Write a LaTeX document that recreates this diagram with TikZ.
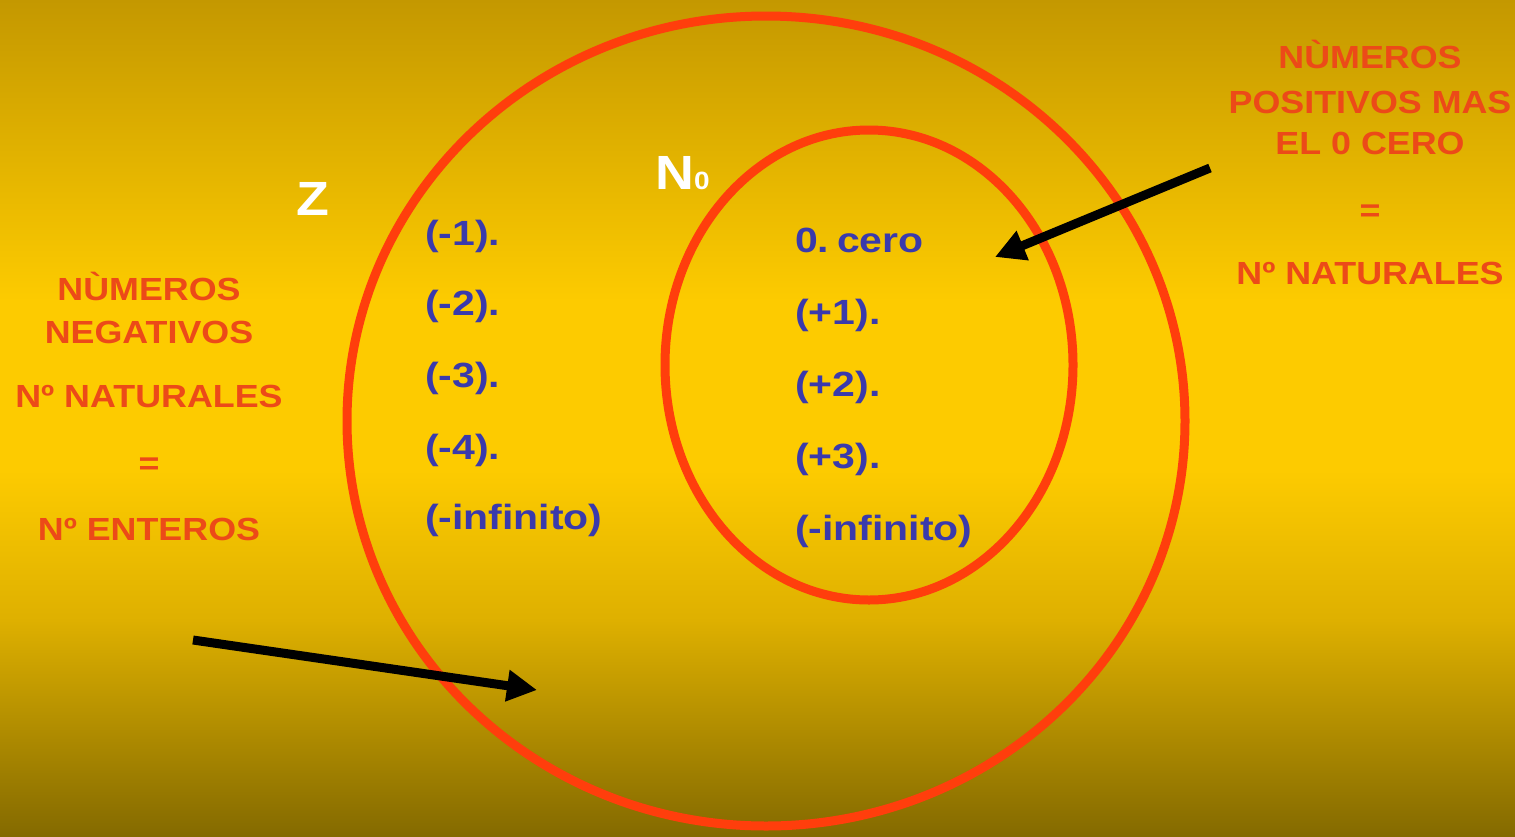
\documentclass[tikz,border=0pt]{standalone}
\usepackage{fontspec}
\setmainfont{Liberation Sans}[FakeStretch=1.12]
\newfontfamily\numfont{Liberation Sans}[FakeStretch=1.17]
\usetikzlibrary{arrows.meta}
\definecolor{bgtop}{RGB}{196,152,0}
\definecolor{bgmid}{RGB}{253,203,0}
\definecolor{bglow}{RGB}{222,176,0}
\definecolor{bgbot}{RGB}{132,106,0}
\definecolor{ringred}{RGB}{255,62,12}
\definecolor{orangetxt}{RGB}{236,74,24}
\definecolor{bluetxt}{RGB}{58,58,172}
\begin{document}
\begin{tikzpicture}[x=1pt,y=-1pt,
  ring/.style={draw=ringred,line width=9pt},
  lbl/.style={text=orangetxt,font=\fontsize{32}{38}\selectfont\bfseries,anchor=base,inner sep=0pt},
  num/.style={text=bluetxt,font=\numfont\fontsize{35}{40}\selectfont\bfseries,anchor=base west,inner sep=0pt},
  setname/.style={text=white,font=\fontsize{48}{48}\selectfont\bfseries,anchor=base west,inner sep=0pt},
  pointer/.style={draw=black,line width=9pt,-{Triangle[length=30pt,width=30pt]}}]
\useasboundingbox (0,0) rectangle (1515,836);
% background
\fill[top color=bgtop,bottom color=bgmid,draw=none] (0,0) rectangle (1515,301);
\fill[bgmid] (0,300) rectangle (1515,471);
\fill[top color=bgmid,bottom color=bglow,draw=none] (0,470) rectangle (1515,621);
\fill[top color=bglow,bottom color=bgbot,draw=none] (0,620) rectangle (1515,836);
% sets
\draw[ring] (766,421) ellipse [x radius=419,y radius=405];
\draw[ring] (869,365) ellipse [x radius=204,y radius=235];
% set names
\node[setname] (Z) at (296,215) {Z};
\node[setname] (N0) at (655,189) {N{\fontsize{25}{25}\selectfont 0}};
% negative numbers
\node[num] (m1) at (425,245) {(-1).};
\node[num] (m2) at (425,315) {(-2).};
\node[num] (m3) at (425,387) {(-3).};
\node[num] (m4) at (425,459) {(-4).};
\node[num] (minf) at (425,529) {(-infinito)};
% natural numbers
\node[num] (p0) at (795,252) {0.\hspace{0.22em}cero};
\node[num] (p1) at (795,324) {(+1).};
\node[num] (p2) at (795,396) {(+2).};
\node[num] (p3) at (795,468) {(+3).};
\node[num] (pinf) at (795,540) {(-infinito)};
% left caption
\node[lbl] (l1) at (149,300) {NÙMEROS};
\node[lbl] (l2) at (149,343) {NEGATIVOS};
\node[lbl] (l3) at (149,407) {Nº NATURALES};
\node[lbl] (l4) at (149,474) {=};
\node[lbl] (l5) at (149,540) {Nº ENTEROS};
% right caption
\node[lbl] (r1) at (1370,68) {NÙMEROS};
\node[lbl] (r2) at (1370,113) {POSITIVOS MAS};
\node[lbl] (r3) at (1370,154) {EL 0 CERO};
\node[lbl] (r4) at (1370,221) {=};
\node[lbl] (r5) at (1370,284) {Nº NATURALES};
% arrows
\coordinate (ltail) at (193,640);
\coordinate (ltip) at (537,690);
\coordinate (rtail) at (1210,168);
\coordinate (rtip) at (995,257);
\draw[pointer] (ltail) -- (ltip);
\draw[pointer] (rtail) -- (rtip);
\end{tikzpicture}
\end{document}
